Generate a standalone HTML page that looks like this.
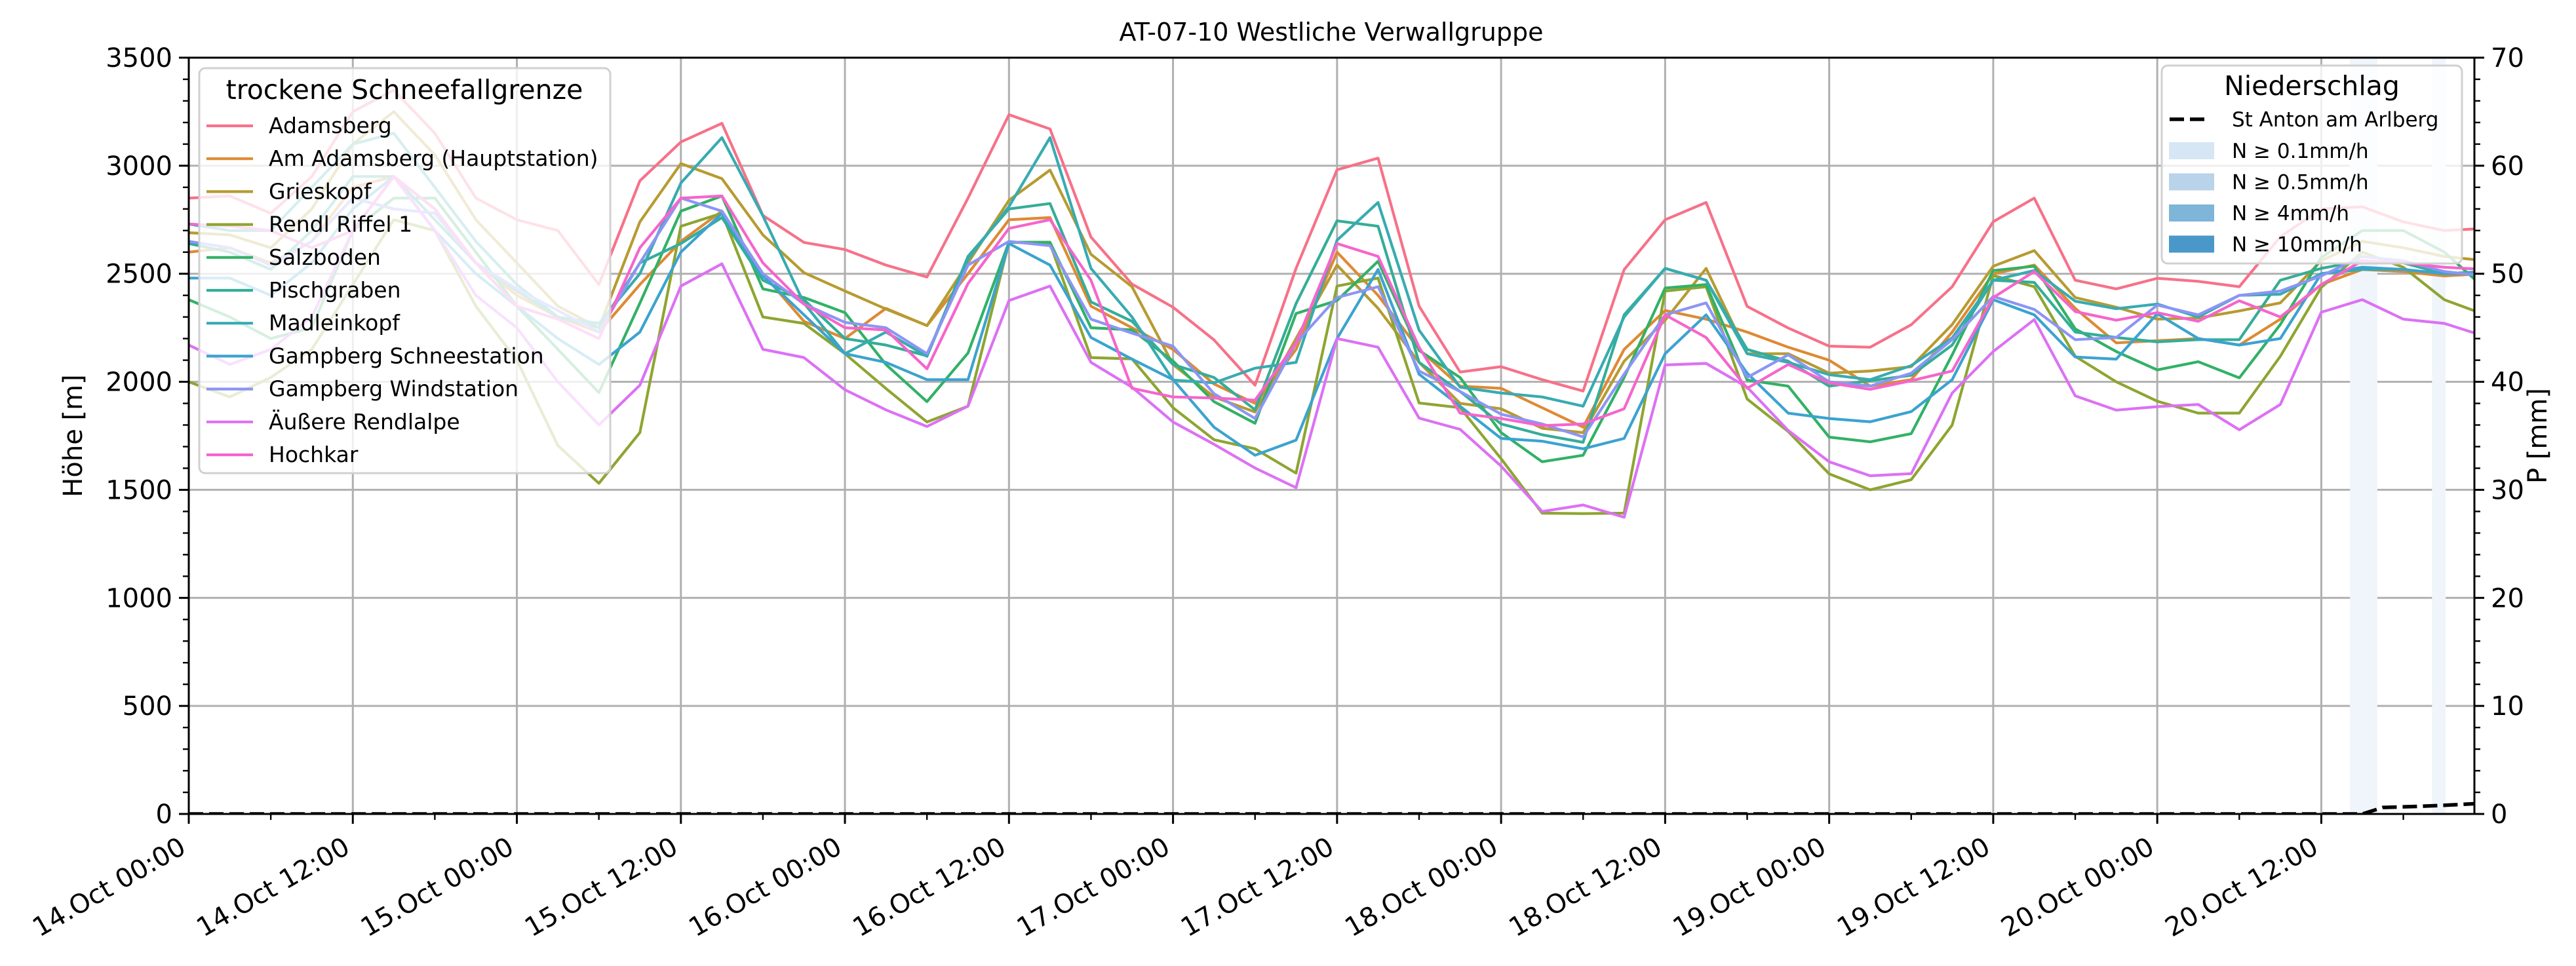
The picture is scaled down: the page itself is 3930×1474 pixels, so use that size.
<!DOCTYPE html>
<html><head><meta charset="utf-8">
<style>
html,body{margin:0;padding:0;background:#fff;}
svg{display:block;font-family:"DejaVu Sans","Liberation Sans",sans-serif;}
</style></head>
<body>
<svg id="chart" width="3930" height="1474" viewBox="0 0 3930 1474" xmlns="http://www.w3.org/2000/svg">
<rect x="0" y="0" width="3930" height="1474" fill="#fff"/>
<defs><clipPath id="plotclip"><rect x="288" y="88" width="3487" height="1154"/></clipPath></defs>
<text x="2031" y="62" font-size="38" text-anchor="middle">AT-07-10 Westliche Verwallgruppe</text>
<g id="grid"></g>
<g id="bands" clip-path="url(#plotclip)"></g>
<g id="series" clip-path="url(#plotclip)"></g>
<g id="precip" clip-path="url(#plotclip)"></g>
<g id="axes"></g>
<g id="legend1"></g>
<g id="legend2"></g>
<text x="0" y="0" font-size="40" text-anchor="middle" transform="translate(125,665) rotate(-90)">Höhe [m]</text>
<text x="0" y="0" font-size="40" text-anchor="middle" transform="translate(3885,665) rotate(-90)">P [mm]</text>
</svg>
<script>
const hours = [0,3,6,9,12,15,18,21,24,27,30,33,36,39,42,45,48,51,54,57,60,63,66,69,72,75,78,81,84,87,90,93,96,99,102,105,108,111,114,117,120,123,126,129,132,135,138,141,144,147,150,153,156,159,162,165,168];
const stationNames = ["Adamsberg","Am Adamsberg (Hauptstation)","Grieskopf","Rendl Riffel 1","Salzboden","Pischgraben","Madleinkopf","Gampberg Schneestation","Gampberg Windstation","Äußere Rendlalpe","Hochkar"];
const stationColors = ["#f77189","#de8a33","#b69b31","#8ea531","#32b166","#35ad98","#37abb1","#3ba3d0","#8c95f4","#dc71f4","#f565cc"];
const adamsberg = [2850,2860,2780,2950,3250,3350,3150,2850,2750,2700,2450,2930,3110,3196,2770,2645,2612,2540,2485,2850,3236,3170,2670,2452,2345,2194,1984,2525,2981,3035,2350,2045,2070,2010,1957,2519,2750,2830,2349,2249,2165,2160,2264,2440,2741,2850,2470,2430,2479,2465,2440,2671,2800,2810,2740,2700,2710];
const amAdamsberg = [2600,2620,2550,2650,2900,2950,2800,2550,2400,2300,2230,2450,2650,2790,2500,2280,2200,2340,2260,2500,2750,2760,2350,2250,2150,1990,1900,2150,2600,2400,2150,1980,1970,1880,1790,2150,2330,2290,2230,2160,2100,1980,2010,2230,2500,2540,2340,2180,2190,2200,2170,2290,2450,2520,2510,2490,2500];
const grieskopf = [2690,2680,2620,2800,3100,3250,3050,2750,2550,2350,2250,2740,3010,2940,2680,2505,2420,2337,2260,2550,2840,2980,2590,2440,2080,1930,1860,2200,2540,2340,2090,1900,1875,1785,1765,2095,2285,2525,2130,2130,2040,2050,2070,2265,2535,2607,2390,2345,2290,2295,2328,2365,2560,2650,2620,2580,2560];
const rendlRiffel = [2000,1930,2020,2150,2450,2750,2700,2350,2100,1705,1530,1765,2720,2780,2300,2270,2130,1969,1814,1887,2646,2640,2112,2106,1880,1732,1690,1577,2443,2480,1902,1880,1644,1392,1390,1392,2420,2440,1920,1770,1574,1500,1547,1800,2492,2440,2118,2000,1910,1855,1855,2118,2437,2600,2530,2380,2310];
const salzboden = [2380,2300,2200,2250,2700,2850,2850,2600,2350,2150,1950,2364,2790,2860,2430,2390,2320,2080,1908,2133,2646,2646,2250,2240,2096,1908,1808,2316,2376,2558,2145,2020,1765,1630,1660,2020,2434,2450,2008,1980,1744,1722,1760,2125,2515,2535,2245,2140,2055,2093,2018,2265,2575,2700,2700,2600,2430];
const pischgraben = [2640,2600,2520,2700,2950,2950,2750,2550,2420,2300,2250,2550,2640,2760,2470,2380,2200,2170,2120,2580,2800,2825,2370,2280,2080,2020,1870,2362,2745,2720,2090,1955,1805,1755,1720,2310,2525,2470,2150,2095,1980,2005,2030,2170,2470,2460,2230,2205,2185,2195,2195,2470,2525,2560,2550,2500,2510];
const madleinkopf = [2730,2700,2700,2900,3100,3150,2900,2650,2450,2300,2270,2500,2920,3130,2768,2364,2130,2230,2118,2568,2811,3130,2525,2300,2008,1995,2063,2090,2655,2830,2239,1975,1948,1930,1887,2300,2525,2470,2130,2090,2033,2010,2075,2203,2470,2515,2373,2338,2360,2300,2400,2405,2500,2520,2520,2500,2510];
const gampbergSchnee = [2480,2480,2400,2550,2800,2950,2700,2500,2350,2200,2080,2230,2600,2780,2490,2310,2130,2090,2010,2010,2640,2540,2205,2105,2010,1790,1660,1730,2200,2520,2035,1887,1738,1725,1690,1738,2130,2310,2040,1855,1830,1815,1862,2010,2380,2310,2115,2105,2315,2200,2170,2200,2500,2530,2520,2500,2500];
const gampbergWind = [2650,2620,2540,2650,2850,2800,2780,2550,2430,2330,2230,2550,2850,2790,2500,2360,2275,2250,2130,2540,2650,2630,2290,2225,2165,1945,1830,2180,2390,2440,2050,1955,1850,1805,1745,2035,2310,2365,2020,2125,2000,1980,2040,2195,2395,2335,2195,2205,2355,2310,2400,2420,2490,2580,2560,2510,2490];
const aeussereRendlalpe = [2170,2080,2150,2300,2700,2950,2700,2400,2250,2000,1800,1984,2443,2546,2150,2112,1963,1870,1793,1887,2376,2443,2090,1975,1814,1711,1601,1510,2200,2160,1832,1780,1610,1400,1430,1373,2078,2085,1975,1775,1630,1565,1575,1948,2140,2288,1935,1869,1885,1895,1778,1895,2322,2380,2290,2270,2210];
const hochkar = [2730,2720,2700,2620,2700,2950,2800,2550,2350,2290,2200,2620,2850,2860,2550,2360,2250,2240,2060,2455,2710,2750,2470,1970,1930,1925,1915,2180,2640,2580,2160,1855,1830,1797,1805,1875,2310,2205,1970,2080,1995,1965,2005,2050,2390,2510,2325,2285,2320,2280,2375,2300,2450,2560,2550,2530,2520];
const seriesList = [adamsberg,amAdamsberg,grieskopf,rendlRiffel,salzboden,pischgraben,madleinkopf,gampbergSchnee,gampbergWind,aeussereRendlalpe,hochkar];
const precipHours = [0,158,159,160.5,163,165,168];
const precipValues = [0,0,0,0.6,0.7,0.8,1.0];
const bandStartHours = [158.1,164.1];
const bandEndHours = [160.1,165.1];
const yTickValues = [0,500,1000,1500,2000,2500,3000,3500];
const y2TickValues = [0,10,20,30,40,50,60,70];
const xTickHours = [0,12,24,36,48,60,72,84,96,108,120,132,144,156];
const xTickLabels = ["14.Oct 00:00","14.Oct 12:00","15.Oct 00:00","15.Oct 12:00","16.Oct 00:00","16.Oct 12:00","17.Oct 00:00","17.Oct 12:00","18.Oct 00:00","18.Oct 12:00","19.Oct 00:00","19.Oct 12:00","20.Oct 00:00","20.Oct 12:00"];
const precipLegendLabels = ["N ≥ 0.1mm/h","N ≥ 0.5mm/h","N ≥ 4mm/h","N ≥ 10mm/h"];
const precipLegendColors = ["#d6e6f4","#b8d3ea","#7fb5d8","#4a98c9"];

const NS="http://www.w3.org/2000/svg";
const L=288,R=3775,T=88,B=1242,XMAX=167.2,YMAX=3500,PMAX=70;
function xs(h){return L+(h/XMAX)*(R-L);}
function ys(v){return B-(v/YMAX)*(B-T);}
function yp(p){return B-(p/PMAX)*(B-T);}
function mk(tag,attrs,parent){const e=document.createElementNS(NS,tag);for(const k in attrs)e.setAttribute(k,attrs[k]);parent.appendChild(e);return e;}

const grid=document.getElementById('grid');
xTickHours.forEach(h=>{const l=mk('line',{x1:xs(h),x2:xs(h),y1:T,y2:B,stroke:'#b0b0b0','stroke-width':3},grid);

});
yTickValues.forEach(v=>{const l=mk('line',{x1:L,x2:R,y1:ys(v),y2:ys(v),stroke:'#b0b0b0','stroke-width':3},grid);

});

const bands=document.getElementById('bands');
bandStartHours.forEach((h,i)=>{const r=mk('rect',{x:xs(h),y:T,width:xs(bandEndHours[i])-xs(h),height:B-T,fill:'#f0f4fb'},bands);

});

const sg=document.getElementById('series');
seriesList.forEach((s,i)=>{const pts=s.map((v,j)=>xs(hours[j]).toFixed(1)+','+ys(v).toFixed(1)).join(' ');
const p=mk('polyline',{points:pts,fill:'none',stroke:stationColors[i],'stroke-width':4.2,'stroke-linejoin':'round'},sg);

});

const pg=document.getElementById('precip');
const ppts=precipValues.map((v,j)=>xs(precipHours[j]).toFixed(1)+','+yp(v).toFixed(1)).join(' ');
const pl=mk('polyline',{points:ppts,fill:'none',stroke:'#000','stroke-width':5.5,'stroke-dasharray':'22,9'},pg);



const ax=document.getElementById('axes');
mk('rect',{x:L,y:T,width:R-L,height:B-T,fill:'none',stroke:'#000','stroke-width':3},ax);
yTickValues.forEach(v=>{mk('line',{x1:L-15,x2:L,y1:ys(v),y2:ys(v),stroke:'#000','stroke-width':3},ax);
const t=mk('text',{x:L-25,y:ys(v)+14,'font-size':40,'text-anchor':'end'},ax);t.textContent=v;

});
for(let v=100;v<3500;v+=100){if(v%500)mk('line',{x1:L-9,x2:L,y1:ys(v),y2:ys(v),stroke:'#000','stroke-width':2.4},ax);}
y2TickValues.forEach(v=>{mk('line',{x1:R,x2:R+15,y1:yp(v),y2:yp(v),stroke:'#000','stroke-width':3},ax);
const t=mk('text',{x:R+25,y:yp(v)+14,'font-size':40,'text-anchor':'start'},ax);t.textContent=v;

});
for(let v=2;v<70;v+=2){if(v%10)mk('line',{x1:R,x2:R+9,y1:yp(v),y2:yp(v),stroke:'#000','stroke-width':2.4},ax);}
xTickHours.forEach((h,i)=>{mk('line',{x1:xs(h),x2:xs(h),y1:B,y2:B+15,stroke:'#000','stroke-width':3},ax);
mk('line',{x1:xs(h+6),x2:xs(h+6),y1:B,y2:B+9,stroke:'#000','stroke-width':2.4},ax);
const t=mk('text',{x:0,y:0,'font-size':40,'text-anchor':'end',transform:'translate('+(xs(h)-2)+','+(B+58)+') rotate(-30)'},ax);t.textContent=xTickLabels[i];

});

const lg1=document.getElementById('legend1');
mk('rect',{x:304,y:104,width:627,height:618,rx:9,fill:'rgba(255,255,255,0.8)',stroke:'#d0d0d0','stroke-width':3},lg1);
const lt1=mk('text',{x:617,y:151,'font-size':41,'text-anchor':'middle'},lg1);lt1.textContent='trockene Schneefallgrenze';
stationNames.forEach((n,i)=>{const y=192+i*50.2;
const ln=mk('line',{x1:315,x2:386,y1:y,y2:y,stroke:stationColors[i],'stroke-width':4.2},lg1);


const t=mk('text',{x:410,y:y+11,'font-size':33},lg1);t.textContent=n;

});

const lg2=document.getElementById('legend2');
mk('rect',{x:3298,y:100,width:458,height:302,rx:9,fill:'rgba(255,255,255,0.8)',stroke:'#d0d0d0','stroke-width':3},lg2);
const lt2=mk('text',{x:3527,y:145,'font-size':41,'text-anchor':'middle'},lg2);lt2.textContent='Niederschlag';
mk('line',{x1:3310,x2:3368,y1:182,y2:182,stroke:'#000','stroke-width':5.5,'stroke-dasharray':'22,9'},lg2);
const st=mk('text',{x:3405,y:193,'font-size':31},lg2);st.textContent='St Anton am Arlberg';


precipLegendLabels.forEach((n,i)=>{const y=230+i*47.5;
const r=mk('rect',{x:3309,y:y-13,width:69,height:26,fill:precipLegendColors[i]},lg2);


const t=mk('text',{x:3405,y:y+11,'font-size':31},lg2);t.textContent=n;

});
</script>
</body></html>
